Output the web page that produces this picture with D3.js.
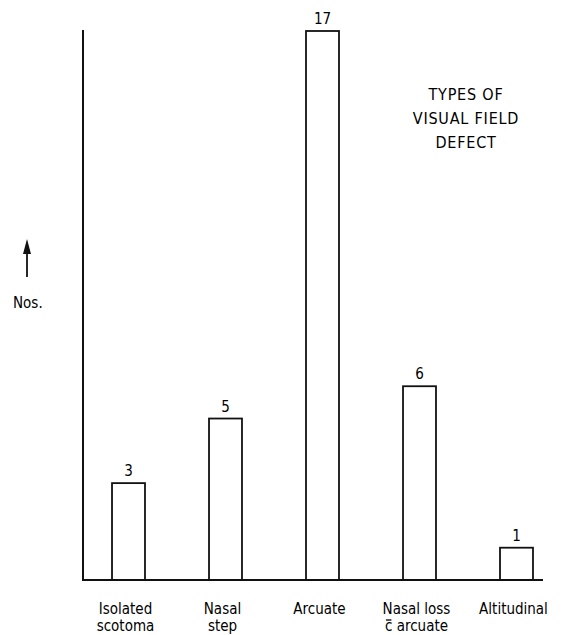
<!DOCTYPE html>
<html>
<head>
<meta charset="utf-8">
<script src="https://cdn.jsdelivr.net/npm/d3@7"></script>
<style>
    body { margin: 0; background: #fff; }
    svg text { font-family: 'Liberation Sans Narrow', 'DejaVu Sans Condensed', sans-serif; fill: #000; }
</style>
</head>
<body>
<svg id="chart" width="567" height="635"></svg>
<script>
// Data
const categories = ['Isolated scotoma', 'Nasal step', 'Arcuate', 'Nasal loss c arcuate', 'Altitudinal'];
const labelLines = [['Isolated', 'scotoma'], ['Nasal', 'step'], ['Arcuate'], ['Nasal loss', 'c arcuate'], ['Altitudinal']];
const counts = [3, 5, 17, 6, 1];
const titleLines = ['TYPES OF', 'VISUAL FIELD', 'DEFECT'];

const svg = d3.select('#chart');
const baseY = 580;

const x = d3.scaleBand()
    .domain(categories)
    .range([80, 565])
    .paddingInner(0.66)
    .paddingOuter(0.33);

const y = d3.scaleLinear()
    .domain([0, 17])
    .range([baseY, 31]);

// Axis lines
svg.append('line')
    .attr('x1', 83).attr('x2', 83)
    .attr('y1', 30).attr('y2', baseY)
    .attr('stroke', '#111').attr('stroke-width', 2);

svg.append('line')
    .attr('x1', 82).attr('x2', 543)
    .attr('y1', baseY).attr('y2', baseY)
    .attr('stroke', '#111').attr('stroke-width', 2);

// Bars
svg.append('g').selectAll('rect')
    .data(counts)
    .enter().append('rect')
    .attr('x', (d, i) => x(categories[i]))
    .attr('y', d => y(d))
    .attr('width', x.bandwidth())
    .attr('height', d => baseY - y(d))
    .attr('fill', 'none')
    .attr('stroke', '#111')
    .attr('stroke-width', 1.8);

// Value labels
svg.append('g').selectAll('text')
    .data(counts)
    .enter().append('text')
    .attr('x', (d, i) => x(categories[i]) + x.bandwidth() / 2)
    .attr('y', d => y(d) - 7)
    .attr('text-anchor', 'middle')
    .attr('font-size', '15px')
    .text(d => d);

// Category labels
const catG = svg.append('g');
const cat = catG.selectAll('text')
    .data(labelLines)
    .enter().append('text')
    .attr('text-anchor', 'middle')
    .attr('font-size', '15px');

cat.each(function(lines, i) {
    const t = d3.select(this);
    const cx = x(categories[i]) + x.bandwidth() / 2 - 3;
    let offset = 0;
    lines.forEach((line, j) => {
        const ly = 614 + j * 17;
        t.append('tspan')
            .attr('x', cx).attr('y', ly)
            .text(line);
        // "c" with a bar over it (= "with")
        if (line.startsWith('c ')) {
            const box = this.getExtentOfChar(offset);
            catG.append('line')
                .attr('x1', box.x + 1).attr('x2', box.x + box.width - 1)
                .attr('y1', ly - 11).attr('y2', ly - 11)
                .attr('stroke', '#000').attr('stroke-width', 1.3);
        }
        offset += line.length;
    });
});

// Title
svg.append('g').selectAll('text')
    .data(titleLines)
    .enter().append('text')
    .attr('x', 466)
    .attr('y', (d, i) => 100 + i * 24)
    .attr('text-anchor', 'middle')
    .attr('font-size', '16px')
    .attr('letter-spacing', '0.8px')
    .text(d => d);

// Y label with arrow
svg.append('line')
    .attr('x1', 27).attr('x2', 27)
    .attr('y1', 250).attr('y2', 277)
    .attr('stroke', '#111').attr('stroke-width', 1.8);
svg.append('path')
    .attr('d', 'M27,239 L23,254 L31,254 Z')
    .attr('fill', '#111');
svg.append('text')
    .attr('x', 13).attr('y', 308)
    .attr('font-size', '15px')
    .text('Nos.');
</script>
</body>
</html>
